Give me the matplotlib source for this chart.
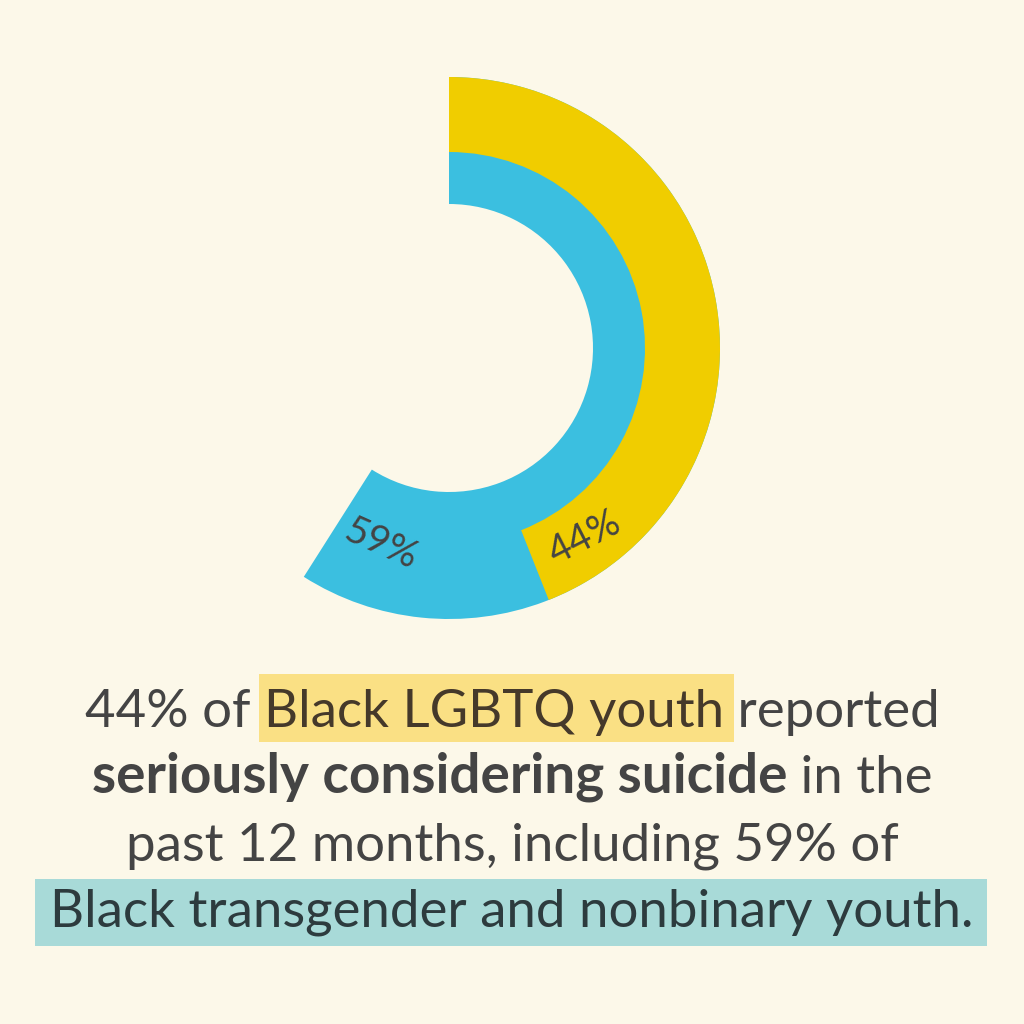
import numpy as np
import matplotlib.pyplot as plt
from matplotlib.patches import Rectangle

plt.rcParams["font.family"] = ["Lato", "DejaVu Sans"]

# Shares shown in the two rings (percent)
trans_nb_share = 59   # Black transgender and nonbinary youth (inner, blue)
lgbtq_share = 44      # Black LGBTQ youth (outer, yellow)
ring_labels = ["59%", "44%"]

# Caption, one list of (text, bold, highlight) pieces per line
caption_lines = [
    [("44% of ", False, None), ("Black LGBTQ youth", False, "yellow"), (" reported", False, None)],
    [("seriously considering suicide", True, None), (" in the", False, None)],
    [("past 12 months, including 59% of", False, None)],
    [("Black transgender and nonbinary youth.", False, "teal")],
]

BG = "#FCF8E9"
YELLOW = "#F0CD00"
BLUE = "#3BBFE0"
TEXT = "#444444"
# fill, text colour, pad left, pad right, below baseline, height
HILITE = {"yellow": ("#FAE084", "#45392A", 5, 10, 15, 68),
          "teal": ("#A8DAD8", "#2D3B3E", 15, 13, 19, 67)}

W = H = 1024
fig = plt.figure(figsize=(W / 100, H / 100), dpi=100, facecolor=BG)
ax = fig.add_axes([0, 0, 1, 1])
ax.set_facecolor(BG)

# --- rings ---
cx, cy = 449, H - 348
r_out = 271
ax.pie([trans_nb_share, 100 - trans_nb_share], colors=[BLUE, "none"],
       startangle=90, counterclock=False, radius=r_out, center=(cx, cy),
       wedgeprops=dict(width=r_out - 144, linewidth=0))
ax.pie([lgbtq_share, 100 - lgbtq_share], colors=[YELLOW, "none"],
       startangle=90, counterclock=False, radius=r_out, center=(cx, cy),
       wedgeprops=dict(width=r_out - 196, linewidth=0))

# labels near the end of each wedge (angle clockwise from top, radius, rotation)
for lab, ang, rad, rot in [(ring_labels[0], 199, 208, -24),
                           (ring_labels[1], 144.5, 233, 27)]:
    a = np.deg2rad(90 - ang)
    ax.text(cx + rad * np.cos(a), cy + rad * np.sin(a), lab, fontsize=28,
            color=TEXT, rotation=rot, ha="center", va="center",
            rotation_mode="anchor")

ax.set_xlim(0, W)
ax.set_ylim(0, H)
ax.set_aspect("equal")
ax.axis("off")

# --- caption ---
fs = 38
baselines = [727, 793, 860, 927]
renderer = fig.canvas.get_renderer()
for pieces, base in zip(caption_lines, baselines):
    y = H - base
    texts = []
    for s, bold, hl in pieces:
        color = HILITE[hl][1] if hl else TEXT
        t = ax.text(0, y, s, fontsize=fs + 1.5 if bold else fs, color=color,
                    va="baseline", ha="left",
                    fontweight="bold" if bold else "normal", zorder=3)
        texts.append((t, hl))
    widths = [t.get_window_extent(renderer).width for t, _ in texts]
    x = W / 2 - sum(widths) / 2
    for (t, hl), w in zip(texts, widths):
        t.set_x(x)
        if hl:
            fill, _, pl, pr, below, hgt = HILITE[hl]
            ax.add_patch(Rectangle((x - pl, y - below), w + pl + pr, hgt,
                                   facecolor=fill, edgecolor="none", zorder=2))
        x += w

fig.savefig("out.png", dpi=100, facecolor=BG)
